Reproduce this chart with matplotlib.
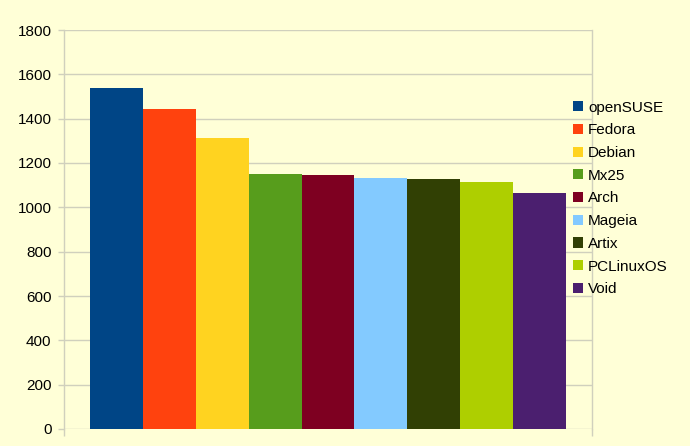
import matplotlib
matplotlib.use("Agg")
import matplotlib.pyplot as plt

categories = ["openSUSE", "Fedora", "Debian", "Mx25", "Arch", "Mageia", "Artix", "PCLinuxOS", "Void"]
values = [1540, 1445, 1315, 1150, 1146, 1131, 1128, 1113, 1066]
colors = ["#004586", "#ff420e", "#ffd320", "#579d1c", "#7e0021", "#83caff", "#314004", "#aecf00", "#4b1f6f"]
yticks = [0, 200, 400, 600, 800, 1000, 1200, 1400, 1600, 1800]

plt.rcParams['font.family'] = ['Liberation Sans', 'DejaVu Sans']
bg = "#ffffd7"
grid = "#d0d0bd"

fig = plt.figure(figsize=(6.9, 4.46), dpi=100)
fig.patch.set_facecolor(bg)
ax = fig.add_axes([64/690, 1-429/446, (592-64)/690, (429-30)/446])
ax.set_facecolor(bg)

for i, (c, v, col) in enumerate(zip(categories, values, colors)):
    ax.bar(i, v, width=1.0, color=col, label=c, zorder=3)

ax.set_xlim(-1, 9)
ax.set_ylim(0, 1800)
ax.set_yticks(yticks)
ax.set_xticks([-1, 9])
ax.set_xticklabels([])
ax.yaxis.grid(True, color=grid, linewidth=1, zorder=0)
ax.set_axisbelow(True)
for s in ["top", "bottom"]:
    ax.spines[s].set_visible(False)
for s in ["left", "right"]:
    ax.spines[s].set_color(grid)
    ax.spines[s].set_linewidth(1)
ax.tick_params(axis='y', length=4.5, width=1, color=grid, direction='out', pad=4.5, labelsize=11, labelcolor='black')
ax.tick_params(axis='x', length=5, width=1, color=grid, direction='out')

leg = fig.legend(loc='center left', bbox_to_anchor=(573/690, 1-198.4/446), frameon=False,
                 fontsize=11, handlelength=0.65, handleheight=0.65, handletextpad=0.33,
                 labelspacing=0.57, borderpad=0, borderaxespad=0)

fig.savefig("out.png", dpi=100, facecolor=bg)
